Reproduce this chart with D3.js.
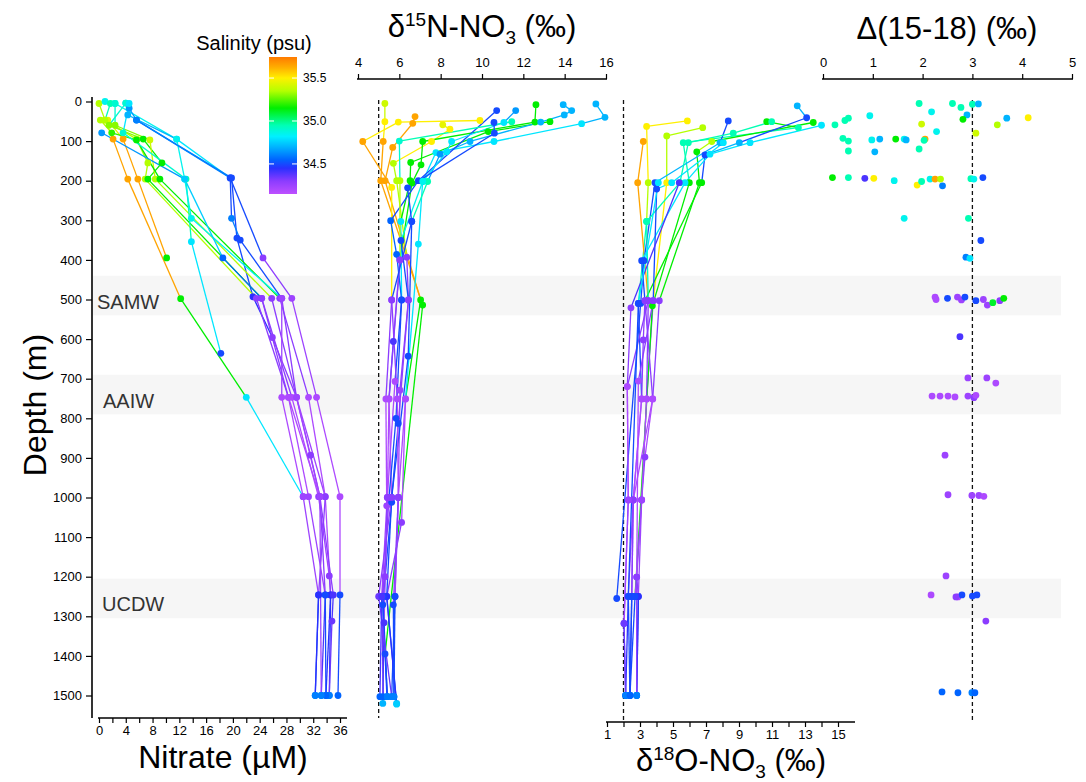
<!DOCTYPE html>
<html><head><meta charset="utf-8">
<script src="https://cdn.jsdelivr.net/npm/d3@7"></script>
<style>body{margin:0;background:#fff} svg{display:block;font-family:"Liberation Sans",Arial,sans-serif}</style>
</head><body><svg id="c" width="1086" height="782"></svg>
<script>
// ---------- DATA ----------
const depthTicks = [0,100,200,300,400,500,600,700,800,900,1000,1100,1200,1300,1400,1500];
const nitrateTicks = [0,2,4,6,8,10,12,14,16,18,20,22,24,26,28,30,32,34,36];
const nitrateLabels = [0,4,8,12,16,20,24,28,32,36];
const d15nTicks = [4,6,8,10,12,14,16];
const d18oTicks = [1,2,3,4,5,6,7,8,9,10,11,12,13,14,15];
const d18oLabels = [1,3,5,7,9,11,13,15];
const deltaTicks = [0,1,2,3,4,5];
const salinityTicks = [34.5,35.0,35.5];
const salinityStops  = [34.15,34.3,34.45,34.55,34.7,34.82,34.95,35.15,35.35,35.5,35.62,35.75];
const salinityColors = ["#be50ff","#8c3cff","#2a30ff","#0064ff","#00b4ff","#00f0ff","#00ffb4","#00ee00","#b4ff00","#fff000","#ffb000","#ff7a00"];
const waterMassNames = ["SAMW","AAIW","UCDW"];
const waterMassTop = [440,690,1205];
const waterMassBottom = [540,790,1305];
const d15nReference = 5;
const d18oReference = 2;
const deltaReference = 3;

// profiles: [depth (m), value, salinity (psu)]
const nitrateProfiles = [
 [[5,0.0,35.35],[47,0.9,35.4],[95,2.1,35.65],[196,4.3,35.65],[498,12.2,35.15],[747,22.0,34.8],[998,30.5,34.3]],
 [[47,1.3,35.45],[95,3.6,35.65],[196,5.8,35.65],[395,10.1,35.15]],
 [[0,0.9,34.85],[5,2.4,34.85],[95,11.6,34.8],[193,19.6,34.5],[395,24.5,34.3],[497,28.8,34.25],[747,32.5,34.2],[998,36.0,34.2],[1246,36.0,34.5],[1500,35.7,34.55]],
 [[4,4.0,34.75],[17,4.5,34.65],[47,5.6,34.6],[193,19.8,34.5],[345,20.6,34.5],[493,23.0,34.45],[596,25.9,34.3],[747,29.5,34.25],[998,33.8,34.2],[1246,34.6,34.45],[1500,34.4,34.55]],
 [[5,1.7,34.95],[47,0.9,35.35],[95,5.6,35.35],[155,7.3,35.35],[196,6.9,35.35],[497,23.5,34.3],[747,28.3,34.2],[998,31.3,34.25],[1246,33.8,34.4],[1500,33.2,34.6]],
 [[4,4.0,34.9],[60,1.5,35.3],[95,6.6,35.15],[155,9.4,35.15],[196,7.3,35.15],[497,24.3,34.3],[747,28.8,34.2],[998,32.8,34.25],[1198,34.4,34.3],[1246,34.6,34.45],[1500,33.9,34.6]],
 [[5,2.4,34.9],[60,2.4,35.3],[97,7.6,35.4],[196,8.4,35.35],[497,25.8,34.3],[747,29.5,34.2],[893,31.6,34.3],[998,33.0,34.3],[1246,35.0,34.4],[1312,34.8,34.35],[1500,34.4,34.6]],
 [[47,0.2,35.35],[79,1.9,35.2],[97,5.6,35.15],[196,9.1,35.15],[497,27.0,34.3],[747,31.3,34.2],[998,33.8,34.3],[1246,32.8,34.5],[1500,32.3,34.6]],
 [[5,4.5,34.8],[79,3.6,34.9],[196,13.0,34.95],[354,13.8,34.8],[636,18.2,34.5]],
 [[34,4.3,34.7],[95,11.6,34.85],[196,12.8,34.85],[295,13.8,34.85],[497,27.3,34.3],[747,29.5,34.25],[998,33.0,34.3],[1246,33.8,34.5],[1500,33.9,34.55]],
 [[47,5.6,34.6],[193,19.6,34.5],[295,19.8,34.6],[350,21.1,34.5],[497,27.3,34.25],[747,27.3,34.2],[998,30.5,34.25],[1246,32.8,34.45],[1500,32.3,34.6]],
 [[79,0.4,34.65],[196,12.8,34.75],[395,18.5,34.55],[497,24.3,34.3],[747,28.3,34.2],[998,33.0,34.25],[1500,33.2,34.6]]
];

const d15nProfiles = [
 [[5,5.3,35.4],[51,5.3,35.5],[101,5.22,35.65],[200,5.1,35.65],[514,7.13,35.15],[1395,5.31,34.5],[1503,5.4,34.6]],
 [[38,6.76,35.65],[55,6.65,35.65],[116,5.68,35.65],[200,5.31,35.65],[501,7.03,35.15],[751,6.3,34.2],[1063,6.11,34.3],[1250,5.39,34.5],[1520,5.87,34.7]],
 [[48,9.9,35.5],[52,5.95,35.5],[101,4.23,35.65],[217,5.63,35.5],[501,5.63,34.3],[751,5.35,34.2],[1021,5.39,34.25],[1250,5.15,34.35],[1503,5.22,34.55]],
 [[59,8.1,35.45],[70,8.45,35.5],[101,7.56,35.5],[156,5.71,35.35],[200,5.87,35.35],[393,6.36,34.3],[501,6.44,34.3],[729,6.03,34.25],[1000,5.95,34.3],[1250,5.79,34.5],[1503,5.63,34.55]],
 [[8,12.61,35.15],[52,12.56,35.15],[101,7.13,35.15],[160,7.05,35.15],[206,6.61,35.15],[400,6.03,34.3],[606,5.71,34.4],[751,5.5,34.2],[1012,5.63,34.5],[1271,5.2,34.5],[1503,5.42,34.6]],
 [[51,13.29,35.15],[76,10.3,35.15],[154,6.55,35.15],[200,6.52,35.15],[303,6.07,34.8],[501,6.11,34.5],[707,5.79,34.2],[1000,5.42,34.25],[1316,5.26,34.4],[1520,5.2,34.7]],
 [[6,15.51,34.7],[40,15.95,34.7],[56,14.82,34.8],[101,10.58,34.8],[129,7.77,34.8],[202,7.13,34.8],[360,6.92,34.8],[751,6.3,34.2],[1000,5.95,34.25],[1250,5.79,34.5],[1503,5.74,34.6]],
 [[8,13.93,34.7],[23,14.34,34.7],[34,13.98,34.7],[52,12.84,34.7],[101,9.42,34.7],[133,7.97,34.65],[202,7.37,34.95],[303,6.6,34.5],[643,6.43,34.5],[1000,5.63,34.5],[1250,5.39,34.45],[1522,5.87,34.75]],
 [[23,10.71,34.5],[200,6.92,34.5],[301,5.58,34.55],[386,5.87,34.55],[501,6.11,34.5],[800,5.84,34.5],[1000,5.5,34.3],[1250,5.2,34.5],[1503,5.42,34.6]],
 [[23,11.63,34.65],[53,11.06,34.8],[101,8.53,34.8],[127,8.29,34.8],[202,7.13,34.85],[351,6.08,34.5],[501,6.44,34.3],[813,5.95,34.5],[1000,5.63,34.3],[1250,5.0,34.35],[1503,5.63,34.6]],
 [[51,11.44,34.95],[100,6.0,34.9],[200,6.03,35.35],[400,6.03,34.3],[751,5.5,34.2],[1000,5.42,34.3],[1200,5.31,34.3],[1250,5.15,34.4],[1503,5.06,34.55]],
 [[53,10.58,34.5],[80,10.6,34.5],[218,6.4,34.5],[303,6.6,34.5],[501,5.63,34.3],[751,5.9,34.2],[1000,5.95,34.3],[1271,5.71,34.5],[1503,5.74,34.6]]
];

const d18oProfiles = [
 [[49,5.87,35.5],[63,3.4,35.5],[205,3.5,35.35],[303,3.4,34.95],[510,2.9,34.5],[751,3.1,34.2],[1006,2.59,34.3],[1250,2.5,34.45],[1500,2.39,34.6]],
 [[101,3.2,35.65],[205,2.86,35.65],[503,3.5,34.3],[720,2.23,34.2],[1006,2.29,34.25],[1318,2.03,34.35],[1500,2.13,34.6]],
 [[66,6.8,35.35],[87,4.62,35.35],[205,4.62,35.5],[503,3.8,34.3],[751,3.4,34.2],[1006,3.1,34.3],[1201,2.8,34.3],[1250,2.9,34.45],[1500,2.8,34.6]],
 [[51,10.68,35.15],[66,12.6,34.95],[104,5.62,34.95],[205,5.99,35.15],[516,3.75,35.15],[1250,2.7,34.5]],
 [[53,13.5,35.15],[101,7.35,35.35],[127,6.44,35.15],[205,6.6,35.15],[503,4.17,34.3],[751,3.77,34.2],[898,3.3,34.3],[1006,3.1,34.25],[1250,2.9,34.45],[1500,2.8,34.6]],
 [[11,12.53,34.7],[41,13.1,34.5],[104,9.02,34.7],[135,6.94,34.5],[205,6.74,35.15],[503,3.3,34.3],[602,3.2,34.3],[751,3.1,34.2],[1006,2.59,34.25],[1250,2.29,34.45],[1500,2.13,34.55]],
 [[49,8.35,34.5],[104,7.85,34.7],[205,3.91,34.5],[402,3.24,34.5],[510,3.04,34.5],[1255,1.59,34.5]],
 [[51,10.98,34.95],[80,8.65,34.95],[104,5.93,34.95],[205,5.42,34.95],[303,3.4,34.95],[503,3.5,34.3],[751,3.4,34.2],[1006,3.1,34.25],[1250,2.7,34.5],[1500,2.39,34.6]],
 [[60,14.0,34.8],[104,9.67,34.8],[133,7.24,34.8],[205,5.73,34.8],[402,3.1,34.5],[503,3.3,34.3],[751,3.77,34.2],[1006,2.59,34.3],[1250,2.5,34.5],[1500,2.39,34.6]],
 [[104,8.05,34.8],[205,4.92,34.8],[221,4.01,34.5],[503,3.8,34.3],[706,2.9,34.2],[1201,2.8,34.3],[1500,2.8,34.6]],
 [[205,5.38,34.4],[521,2.45,34.3],[720,2.23,34.2],[1006,2.29,34.25],[1318,2.03,34.35],[1500,2.13,34.6]],
 [[205,4.11,34.8],[510,2.9,34.5],[1250,2.29,34.5],[1500,2.39,34.55]]
];

const deltaPoints = [
 [5,1.93,34.95],[5,2.6,34.95],[15,2.77,34.95],[7,3.0,34.95],[6,3.12,34.7],[26,2.18,34.85],[34,2.89,34.7],[45,2.81,35.15],
 [36,0.94,34.85],[42,0.51,34.95],[48,0.44,34.95],[59,0.24,34.95],[41,4.12,35.5],[42,3.69,34.7],[59,3.5,35.35],[57,1.98,35.4],
 [80,3.07,35.4],[76,2.28,34.85],[93,0.4,34.95],[100,0.51,34.95],[97,0.98,34.85],[95,1.14,34.7],[95,1.46,35.15],[95,1.63,34.85],
 [97,1.67,34.7],[95,2.05,35.65],[98,2.03,34.95],[125,0.51,34.95],[127,1.04,34.7],[120,1.93,34.95],
 [192,0.19,35.15],[192,0.51,34.95],[194,0.84,34.4],[194,1.02,35.5],[200,1.43,34.85],[211,1.89,35.5],[202,1.98,34.95],[196,2.15,34.85],
 [196,2.25,35.65],[196,2.36,35.35],[213,2.4,34.6],[195,2.97,34.95],[196,3.03,34.85],[192,3.21,34.5],
 [295,1.63,34.85],[295,2.92,34.95],[351,3.17,34.5],[393,2.87,34.6],[396,2.95,34.8],
 [494,2.25,34.2],[500,2.27,34.2],[497,2.5,34.5],[494,2.7,34.25],[501,2.78,34.25],[494,2.85,34.5],[503,3.07,34.5],[500,3.22,34.25],
 [514,3.3,34.25],[508,3.41,35.1],[503,3.55,34.3],[497,3.63,35.15],
 [594,2.75,34.4],[698,2.91,34.25],[698,3.29,34.25],[711,3.47,34.2],
 [744,2.19,34.2],[744,2.35,34.2],[744,2.51,34.2],[746,2.65,34.2],[744,2.91,34.25],[748,3.03,34.3],[742,3.07,34.2],
 [893,2.45,34.25],[993,2.51,34.25],[995,2.99,34.25],[995,3.13,34.25],[997,3.23,34.2],
 [1198,2.47,34.25],[1246,2.17,34.2],[1251,2.71,34.2],[1246,2.79,34.5],[1251,2.67,34.3],[1246,3.09,34.5],[1249,3.0,34.5],[1312,3.27,34.3],
 [1491,2.39,34.55],[1493,2.71,34.55],[1493,2.99,34.6],[1493,3.05,34.55]
];

// ---------- DRAW ----------
const svg = d3.select("#c");
const y = d3.scaleLinear().domain([0,1500]).range([101.5,695.5]);
const xN = d3.scaleLinear().domain([0,36]).range([99,340]);
const x15 = d3.scaleLinear().domain([4,16]).range([358,606]);
const x18 = d3.scaleLinear().domain([1,15]).range([607,838]);
const xD = d3.scaleLinear().domain([0,5]).range([823,1072]);
const col = d3.scaleLinear().domain(salinityStops).range(salinityColors).clamp(true);
const intFmt = d3.format("d");

// water-mass bands
const bandLabelX = [97,103,102];
waterMassNames.forEach((n,i)=>{
  svg.append("rect").attr("x",93).attr("width",968)
    .attr("y",y(waterMassTop[i])).attr("height",y(waterMassBottom[i])-y(waterMassTop[i]))
    .attr("fill","#f6f6f6");
  svg.append("text").attr("x",bandLabelX[i]).attr("y",(y(waterMassTop[i])+y(waterMassBottom[i]))/2+13)
    .attr("font-size",20).attr("fill","#333").text(n);
});

// reference dashed lines
function dashed(x, y2){
  svg.append("line").attr("x1",x).attr("x2",x).attr("y1",100).attr("y2",y2)
    .attr("stroke","#111").attr("stroke-width",1.3).attr("stroke-dasharray","4,3");
}
dashed(x15(d15nReference),718);
dashed(x18(d18oReference),722);
dashed(xD(deltaReference),720);

// profiles
function drawProfiles(profiles, xs){
  const g = svg.append("g");
  profiles.forEach(p=>{
    for(let i=0;i<p.length-1;i++){
      g.append("line").attr("x1",xs(p[i][1])).attr("y1",y(p[i][0]))
        .attr("x2",xs(p[i+1][1])).attr("y2",y(p[i+1][0]))
        .attr("stroke",col(p[i][2])).attr("stroke-width",1.3);
    }
  });
  profiles.forEach(p=>{
    p.forEach(d=>{
      g.append("circle").attr("cx",xs(d[1])).attr("cy",y(d[0])).attr("r",3.4).attr("fill",col(d[2]));
    });
  });
}
drawProfiles(nitrateProfiles,xN);
drawProfiles(d15nProfiles,x15);
drawProfiles(d18oProfiles,x18);
const gD = svg.append("g");
deltaPoints.forEach(d=>{
  gD.append("circle").attr("cx",xD(d[1])).attr("cy",y(d[0])).attr("r",3.4).attr("fill",col(d[2]));
});

// axes
function styleAxis(g){
  g.selectAll(".domain").remove();
  g.selectAll(".tick line").attr("stroke","#000").attr("stroke-width",1.2);
  g.selectAll(".tick text").attr("font-size",13).attr("fill","#000").attr("font-family","Liberation Sans, Arial, sans-serif");
}
function axisLine(x1,y1,x2,y2){
  svg.append("line").attr("x1",x1).attr("y1",y1).attr("x2",x2).attr("y2",y2).attr("stroke","#000").attr("stroke-width",1.6);
}
// depth axis
const gy = svg.append("g").attr("transform","translate(92,0)")
  .call(d3.axisLeft(y).tickValues(depthTicks).tickSize(6).tickPadding(4).tickFormat(intFmt));
styleAxis(gy);
axisLine(92,97,92,718);
// nitrate axis
const gn = svg.append("g").attr("transform","translate(0,718)")
  .call(d3.axisBottom(xN).tickValues(nitrateTicks).tickSize(5).tickPadding(3)
    .tickFormat(d=>nitrateLabels.includes(d)?intFmt(d):""));
styleAxis(gn);
axisLine(98,718,347,718);
// d15N axis (top)
const g15 = svg.append("g").attr("transform","translate(0,79)")
  .call(d3.axisTop(x15).tickValues(d15nTicks).tickSize(5).tickPadding(7).tickFormat(intFmt));
styleAxis(g15);
axisLine(357,79,607,79);
// d18O axis (bottom)
const g18 = svg.append("g").attr("transform","translate(0,722)")
  .call(d3.axisBottom(x18).tickValues(d18oTicks).tickSize(5).tickPadding(3)
    .tickFormat(d=>d18oLabels.includes(d)?intFmt(d):""));
styleAxis(g18);
axisLine(606,722,855,722);
// delta axis (top)
const gd = svg.append("g").attr("transform","translate(0,79)")
  .call(d3.axisTop(xD).tickValues(deltaTicks).tickSize(5).tickPadding(7).tickFormat(intFmt));
styleAxis(gd);
axisLine(822,79,1073,79);

// titles
svg.append("text").attr("x",223).attr("y",768).attr("text-anchor","middle").attr("font-size",32).text("Nitrate (µM)");
svg.append("text").attr("transform","translate(46,405) rotate(-90)").attr("text-anchor","middle").attr("font-size",32).text("Depth (m)");
const t15 = svg.append("text").attr("x",482).attr("y",37).attr("text-anchor","middle").attr("font-size",31);
t15.append("tspan").text("δ");
t15.append("tspan").attr("font-size",19).attr("dy",-11).text("15");
t15.append("tspan").attr("dy",11).text("N-NO");
t15.append("tspan").attr("font-size",19).attr("dy",7).text("3");
t15.append("tspan").attr("dy",-7).text(" (‰)");
const t18 = svg.append("text").attr("x",731).attr("y",771).attr("text-anchor","middle").attr("font-size",31);
t18.append("tspan").text("δ");
t18.append("tspan").attr("font-size",19).attr("dy",-11).text("18");
t18.append("tspan").attr("dy",11).text("O-NO");
t18.append("tspan").attr("font-size",19).attr("dy",7).text("3");
t18.append("tspan").attr("dy",-7).text(" (‰)");
svg.append("text").attr("x",947).attr("y",39).attr("text-anchor","middle").attr("font-size",31).text("Δ(15-18) (‰)");

// colorbar
const cb = {x:269,w:28,top:57,bottom:194};
const cs = d3.scaleLinear().domain([34.15,35.745]).range([cb.bottom,cb.top]);
const grad = svg.append("defs").append("linearGradient").attr("id","sal")
  .attr("x1",0).attr("y1",1).attr("x2",0).attr("y2",0);
salinityStops.forEach((s,i)=>{
  grad.append("stop").attr("offset",(s-34.15)/(35.745-34.15)).attr("stop-color",salinityColors[i]);
});
svg.append("rect").attr("x",cb.x).attr("y",cb.top).attr("width",cb.w).attr("height",cb.bottom-cb.top).attr("fill","url(#sal)");
salinityTicks.forEach(t=>{
  svg.append("line").attr("x1",cb.x).attr("x2",cb.x+5).attr("y1",cs(t)).attr("y2",cs(t)).attr("stroke","#fff").attr("stroke-width",1);
  svg.append("line").attr("x1",cb.x+cb.w-5).attr("x2",cb.x+cb.w).attr("y1",cs(t)).attr("y2",cs(t)).attr("stroke","#fff").attr("stroke-width",1);
  svg.append("text").attr("x",cb.x+cb.w+6).attr("y",cs(t)).attr("dy","0.35em").attr("font-size",12).text(t.toFixed(1));
});
svg.append("text").attr("x",254).attr("y",50).attr("text-anchor","middle").attr("font-size",20).text("Salinity (psu)");
</script></body></html>
